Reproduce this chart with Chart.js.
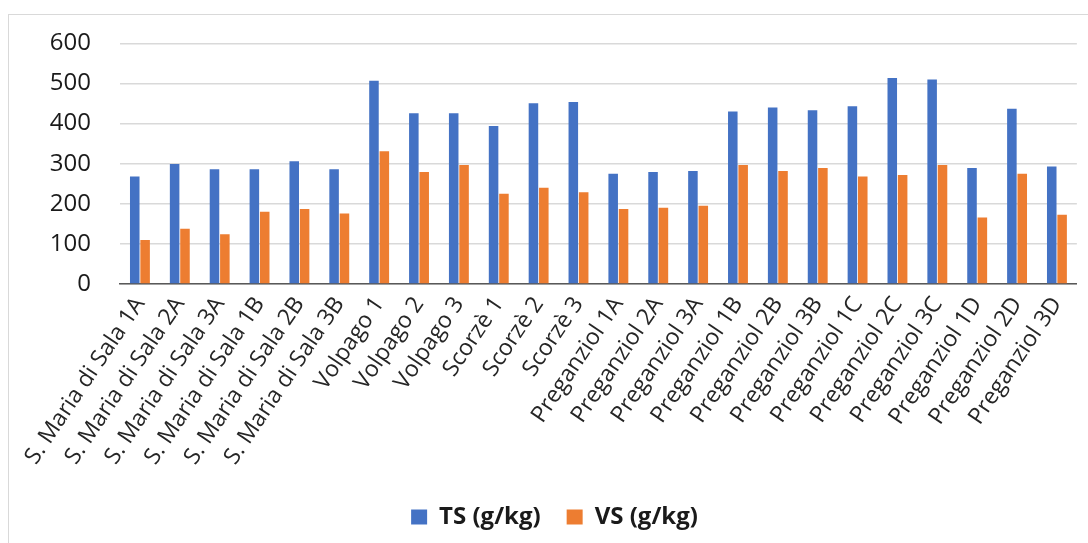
<!DOCTYPE html>
<html>
<head>
<meta charset="utf-8">
<script src="https://cdn.jsdelivr.net/npm/chart.js@4"></script>
<style>
  html, body { margin: 0; padding: 0; background: #ffffff; overflow: hidden; }
  #wrap { position: relative; width: 1088px; height: 543px; }
  #frame { position: absolute; left: 8px; top: 14px; width: 1100px; height: 560px;
           border: 1.5px solid #d9d9d9; box-sizing: border-box; }
  #c { position: absolute; left: 0; top: 0; }
</style>
</head>
<body>
<div id="wrap">
  <div id="frame"></div>
  <canvas id="c" width="1088" height="543"></canvas>
</div>
<script>
// Sampling sites
const categories = [
  "S. Maria di Sala 1A", "S. Maria di Sala 2A", "S. Maria di Sala 3A",
  "S. Maria di Sala 1B", "S. Maria di Sala 2B", "S. Maria di Sala 3B",
  "Volpago 1", "Volpago 2", "Volpago 3",
  "Scorzè 1", "Scorzè 2", "Scorzè 3",
  "Preganziol 1A", "Preganziol 2A", "Preganziol 3A",
  "Preganziol 1B", "Preganziol 2B", "Preganziol 3B",
  "Preganziol 1C", "Preganziol 2C", "Preganziol 3C",
  "Preganziol 1D", "Preganziol 2D", "Preganziol 3D"
];

// Total solids and volatile solids, g/kg
const tsValues = [268, 299, 286, 286, 306, 286, 507, 426, 426, 394, 451, 454,
                  275, 279, 282, 430, 440, 433, 443, 514, 510, 289, 437, 293];
const vsValues = [110, 138, 124, 180, 187, 176, 331, 279, 297, 225, 240, 229,
                  187, 190, 195, 297, 282, 289, 268, 272, 297, 166, 275, 173];

const seriesNames = ["TS (g/kg)", "VS (g/kg)"];
const yTicks = [0, 100, 200, 300, 400, 500, 600];

const AXIS_Y = 284;      // pixel row of the category axis
const PAD_BOTTOM = 4;

new Chart(document.getElementById('c'), {
  type: 'bar',
  data: {
    labels: categories,
    datasets: [
      { label: seriesNames[0], data: tsValues, backgroundColor: '#4472C4',
        categoryPercentage: 0.52, barPercentage: 0.92 },
      { label: seriesNames[1], data: vsValues, backgroundColor: '#ED7D31',
        categoryPercentage: 0.52, barPercentage: 0.92 }
    ]
  },
  options: {
    responsive: false,
    animation: false,
    layout: { padding: { left: 30, right: 9, top: 42, bottom: PAD_BOTTOM } },
    plugins: {
      tooltip: { enabled: false },
      legend: {
        position: 'bottom',
        labels: {
          font: { family: 'Open Sans', size: 24, weight: 'bold' },
          color: '#1a1a1a',
          boxWidth: 16,
          boxHeight: 15,
          padding: 26
        }
      }
    },
    scales: {
      x: {
        grid: { display: false, drawTicks: false },
        border: { display: true, color: '#595959', width: 1.5 },
        ticks: {
          font: { family: 'Open Sans', size: 23 },
          color: '#262626',
          minRotation: 56,
          maxRotation: 56,
          autoSkip: false,
          padding: 8
        },
        afterFit(scale) {
          const lg = scale.chart.legend;
          const lh = lg ? lg.height : 0;
          scale.height = scale.chart.height - AXIS_Y - lh - PAD_BOTTOM;
        }
      },
      y: {
        min: yTicks[0],
        max: yTicks[yTicks.length - 1],
        afterBuildTicks(scale) {
          scale.ticks = yTicks.map(v => ({ value: v }));
        },
        grid: { color: '#d9d9d9', lineWidth: 1.5, drawTicks: false },
        border: { display: false },
        ticks: {
          font: { family: 'Open Sans', size: 24 },
          color: '#1a1a1a',
          padding: 29
        },
        afterFit(scale) { scale.width = 90; }
      }
    }
  }
});
</script>
</body>
</html>
